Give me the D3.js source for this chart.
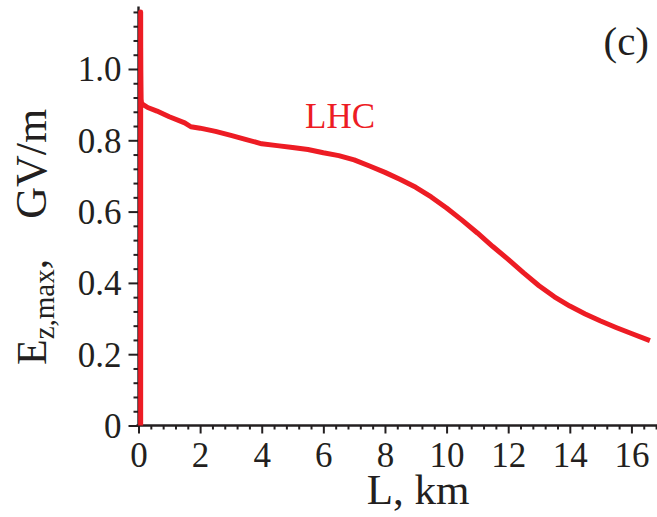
<!DOCTYPE html>
<html>
<head>
<meta charset="utf-8">
<script src="https://cdn.jsdelivr.net/npm/d3@7"></script>
<style>
  html, body { margin: 0; padding: 0; background: #fff; }
  svg { display: block; }
  text { font-family: "Liberation Serif", "DejaVu Serif", serif; fill: #231f20; }
</style>
</head>
<body>
<svg id="chart" width="657" height="517"></svg>
<script>
// ---- data ----
const distanceKm = [0.07, 0.07, 0.072, 0.075, 0.08, 0.085, 0.1, 0.3, 0.6, 1.0, 1.5, 1.7, 2.0, 2.5, 3.0, 3.5, 4.0, 4.5, 5.0, 5.5, 6.0, 6.5, 7.0, 7.5, 8.0, 8.5, 9.0, 9.5, 10.0, 10.5, 11.0, 11.5, 12.0, 12.5, 13.0, 13.5, 14.0, 14.5, 15.0, 15.5, 16.0, 16.6];
const fieldGVm   = [0.0, 1.16, 1.06, 1.0, 0.95, 0.915, 0.903, 0.892, 0.882, 0.866, 0.849, 0.838, 0.834, 0.825, 0.814, 0.802, 0.790, 0.785, 0.780, 0.774, 0.765, 0.757, 0.745, 0.728, 0.710, 0.690, 0.668, 0.641, 0.610, 0.576, 0.540, 0.502, 0.466, 0.428, 0.392, 0.361, 0.335, 0.313, 0.293, 0.275, 0.258, 0.238];
const xMajorTicks = [0, 2, 4, 6, 8, 10, 12, 14, 16];
const yMajorTicks = [0, 0.2, 0.4, 0.6, 0.8, 1.0];
const yTickLabels = ["0", "0.2", "0.4", "0.6", "0.8", "1.0"];
const seriesLabel = "LHC";
const panelLabel = "(c)";

const svg = d3.select("#chart");
const red = "#ed1c24";

const x = d3.scaleLinear().domain([0, 16.83]).range([138.5, 657]);
const y = d3.scaleLinear().domain([0, 1.175]).range([425.5, 6.6]);

// minor tick values
const xMinor = d3.range(0, 16.81, 0.4).filter(v => Math.abs(v / 2 - Math.round(v / 2)) > 1e-6);
const yMinor = d3.range(0, 1.161, 0.04).filter(v => Math.abs(v / 0.2 - Math.round(v / 0.2)) > 1e-6);

// ---- x axis ----
const gx = svg.append("g").attr("transform", `translate(0,${y(0)})`);
gx.call(d3.axisBottom(x).tickValues(xMinor).tickSize(4).tickFormat(""));
const gxMaj = svg.append("g").attr("transform", `translate(0,${y(0)})`)
  .call(d3.axisBottom(x).tickValues(xMajorTicks).tickSize(8).tickPadding(9).tickFormat(d3.format("d")));
[gx, gxMaj].forEach(g => {
  g.selectAll("line").attr("stroke", "#231f20").attr("stroke-width", 2);
  g.select(".domain").attr("stroke", "#231f20").attr("stroke-width", 2.4);
});
gxMaj.select(".domain").remove();
gx.select(".domain").attr("d", `M${x(0) - 2},0H657`);
gxMaj.selectAll("text").attr("font-size", 35).attr("fill", "#231f20").attr("dy", "0.69em");

// ---- y axis ----
const gy = svg.append("g").attr("transform", `translate(${x(0)},0)`);
gy.call(d3.axisLeft(y).tickValues(yMinor).tickSize(5).tickFormat(""));
const gyMaj = svg.append("g").attr("transform", `translate(${x(0)},0)`)
  .call(d3.axisLeft(y).tickValues(yMajorTicks).tickSize(10).tickPadding(7).tickFormat((d, i) => yTickLabels[i]));
[gy, gyMaj].forEach(g => {
  g.selectAll("line").attr("stroke", "#231f20").attr("stroke-width", 2);
  g.select(".domain").attr("stroke", "#231f20").attr("stroke-width", 2.4);
});
gyMaj.select(".domain").remove();
gy.select(".domain").attr("d", `M0,${y(0) + 1}V${y(1.175)}`);
gyMaj.selectAll("text").attr("font-size", 35).attr("fill", "#231f20").attr("dy", "0.34em");

// ---- line ----
const pts = distanceKm.map((d, i) => [d, fieldGVm[i]]);
svg.append("path")
  .datum(pts)
  .attr("fill", "none")
  .attr("stroke", red)
  .attr("stroke-width", 5)
  .attr("stroke-linejoin", "round")
  .attr("d", d3.line().x(d => x(d[0])).y(d => y(d[1])));

// ---- labels ----
svg.append("text")
  .attr("x", 305).attr("y", 128)
  .attr("font-size", 35)
  .style("fill", red)
  .text(seriesLabel);

svg.append("text")
  .attr("x", 649).attr("y", 55)
  .attr("text-anchor", "end")
  .attr("font-size", 41)
  .text(panelLabel);

svg.append("text")
  .attr("x", 418).attr("y", 504)
  .attr("text-anchor", "middle")
  .attr("font-size", 43)
  .text("L, km");

const yl = svg.append("text")
  .attr("transform", "translate(46,365) rotate(-90)")
  .attr("font-size", 42);
yl.append("tspan").text("E");
yl.append("tspan").attr("font-size", 29).attr("dy", 8).text("z,max");
yl.append("tspan").attr("dy", -8).text(",");
yl.append("tspan").attr("dx", 40).attr("font-size", 44).text("GV/m");
</script>
</body>
</html>
